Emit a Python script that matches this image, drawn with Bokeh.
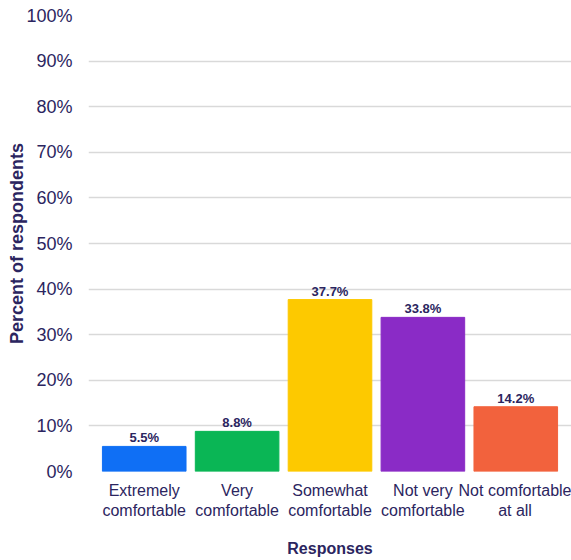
from bokeh.plotting import figure
from bokeh.models import Range1d, FixedTicker, ColumnDataSource, LabelSet
from bokeh.core.properties import value
from bokeh.embed import file_html
from bokeh.resources import INLINE

categories = ["Extremely\ncomfortable", "Very\ncomfortable", "Somewhat\ncomfortable",
              "Not very\ncomfortable", "Not comfortable\nat all"]
values = [5.5, 8.8, 37.7, 33.8, 14.2]
colors = ["#0f6ff5", "#0ab655", "#fdc900", "#8a2bc6", "#f2623d"]
y_ticks = [0, 10, 20, 30, 40, 50, 60, 70, 80, 90, 100]

TEXT = "#2b2560"
FONT = "Liberation Sans"

x = list(range(len(categories)))
src = ColumnDataSource(dict(x=x, top=values, color=colors,
                            label=[f"{v:.1f}%" for v in values]))

p = figure(width=571, height=560, output_backend="svg", toolbar_location=None,
           x_range=Range1d(-0.6, len(categories) - 0.4), y_range=Range1d(0, 100),
           min_border_left=88, min_border_right=0, min_border_top=15, min_border_bottom=89)
p.outline_line_color = None
p.background_fill_color = "white"

p.vbar(x="x", top="top", bottom=0, width=0.9, color="color", source=src)

labels = LabelSet(x="x", y="top", text="label", source=src, text_align="center",
                  text_baseline="bottom", y_offset=1, text_font=value(FONT),
                  text_font_style="bold", text_font_size="13px", text_color=TEXT)
p.add_layout(labels)

p.xaxis.ticker = FixedTicker(ticks=x)
p.xaxis.major_label_overrides = {i: c for i, c in enumerate(categories)}
p.yaxis.ticker = FixedTicker(ticks=y_ticks)
p.yaxis.major_label_overrides = {t: f"{t}%" for t in y_ticks}

for ax in (p.xaxis[0], p.yaxis[0]):
    ax.axis_line_color = None
    ax.major_tick_line_color = None
    ax.minor_tick_line_color = None
    ax.major_label_text_font = FONT
    ax.major_label_text_color = TEXT
    ax.axis_label_text_font = FONT
    ax.axis_label_text_font_style = "bold"
    ax.axis_label_text_color = TEXT

p.xaxis.axis_label_text_font_size = "16px"
p.yaxis.axis_label_text_font_size = "18px"
p.xaxis.major_label_text_font_size = "16px"
p.yaxis.major_label_text_font_size = "18px"
p.xaxis.major_label_standoff = 4
p.yaxis.major_label_standoff = 10
p.xaxis.axis_label = "Responses"
p.yaxis.axis_label = "Percent of respondents"
p.xaxis.axis_label_standoff = 18
p.yaxis.axis_label_standoff = -4

p.xgrid.grid_line_color = None
p.ygrid.ticker = FixedTicker(ticks=y_ticks)
p.ygrid.grid_line_color = "#d9d9d9"
p.ygrid.grid_line_width = 1.5

open("out.html", "w").write(file_html(p, INLINE))
